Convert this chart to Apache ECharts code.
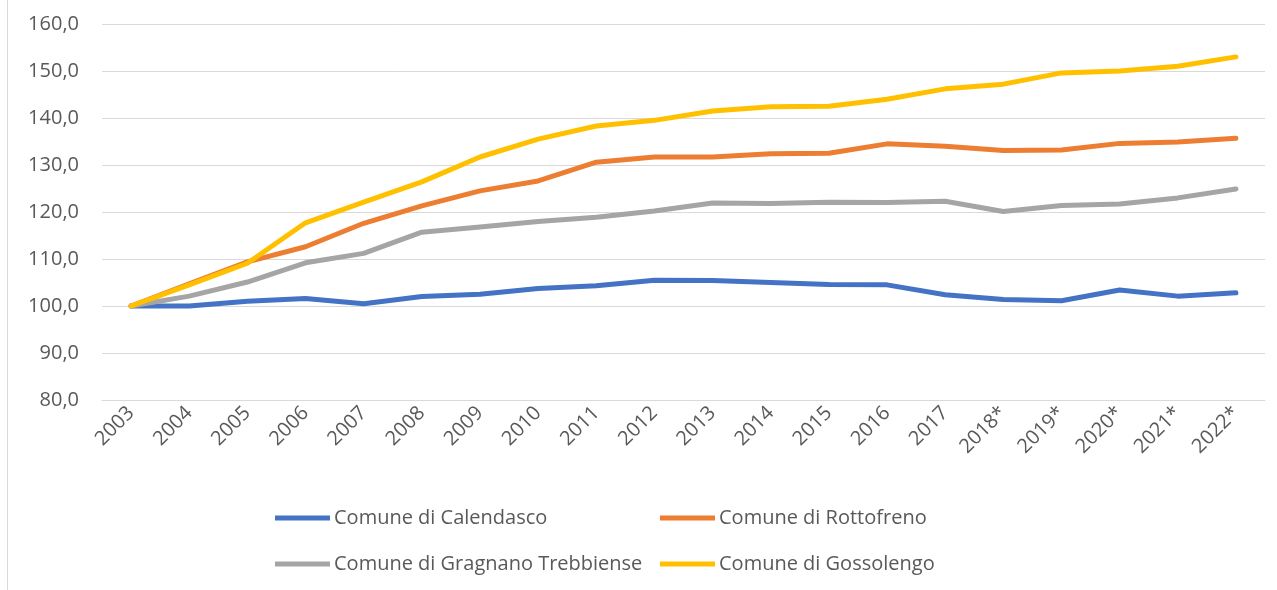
<!DOCTYPE html>
<html>
<head>
<meta charset="utf-8">
<script src="https://cdn.jsdelivr.net/npm/echarts@6/dist/echarts.min.js"></script>
<style>
  html, body { margin: 0; padding: 0; background: #fff; }
  #chart { width: 1277px; height: 590px; }
</style>
</head>
<body>
<div id="chart"></div>
<script>
// anni (gli asterischi = dati stimati)
const years = ['2003', '2004', '2005', '2006', '2007', '2008', '2009', '2010', '2011', '2012',
  '2013', '2014', '2015', '2016', '2017', '2018*', '2019*', '2020*', '2021*', '2022*']

// indice 2003 = 100
const calendasco = [100.0, 100.0, 101.0, 101.6, 100.5, 102.0, 102.5, 103.7, 104.3, 105.5,
  105.4, 105.0, 104.6, 104.5, 102.4, 101.4, 101.1, 103.4, 102.1, 102.8]
const rottofreno = [100.0, 104.7, 109.4, 112.6, 117.6, 121.3, 124.5, 126.6, 130.6, 131.7,
  131.7, 132.4, 132.5, 134.5, 134.0, 133.1, 133.2, 134.6, 134.9, 135.7]
const gragnano = [100.0, 102.1, 105.1, 109.2, 111.2, 115.7, 116.8, 118.0, 118.9, 120.2,
  121.9, 121.8, 122.1, 122.0, 122.3, 120.1, 121.4, 121.7, 123.0, 124.9]
const gossolengo = [100.0, 104.5, 109.1, 117.7, 122.1, 126.4, 131.7, 135.5, 138.3, 139.5,
  141.5, 142.4, 142.5, 144.0, 146.2, 147.2, 149.6, 150.0, 151.0, 153.0]

const seriesDefs = [
  { name: 'Comune di Calendasco', data: calendasco, color: '#4472C4' },
  { name: 'Comune di Rottofreno', data: rottofreno, color: '#ED7D31' },
  { name: 'Comune di Gragnano Trebbiense', data: gragnano, color: '#A5A5A5' },
  { name: 'Comune di Gossolengo', data: gossolengo, color: '#FFC000' }
]

const font = '"Open Sans", Roboto, sans-serif'
const textColor = '#595959'

const legendBase = {
  orient: 'vertical',
  top: 503,
  itemGap: 26,
  itemWidth: 55,
  itemHeight: 5,
  icon: 'rect',
  textStyle: { fontFamily: font, fontSize: 20, color: textColor, padding: [0, 0, 0, -1] },
  selectedMode: false
}

const chart = echarts.init(document.getElementById('chart'))

chart.setOption({
  animation: false,
  color: seriesDefs.map(s => s.color),
  graphic: [{
    type: 'line',
    shape: { x1: 7.5, y1: 0, x2: 7.5, y2: 590 },
    style: { stroke: '#d9d9d9', lineWidth: 1 }
  }],
  legend: [
    Object.assign({}, legendBase, { left: 270, data: [seriesDefs[0].name, seriesDefs[2].name] }),
    Object.assign({}, legendBase, { left: 655, data: [seriesDefs[1].name, seriesDefs[3].name] })
  ],
  grid: { left: 102, right: 12, top: 24, bottom: 190 },
  xAxis: {
    type: 'category',
    data: years,
    boundaryGap: true,
    axisLine: { lineStyle: { color: '#d9d9d9', width: 1 } },
    axisTick: { show: false },
    axisLabel: {
      rotate: 45,
      margin: 10,
      fontFamily: font,
      fontSize: 20,
      color: textColor
    }
  },
  yAxis: {
    type: 'value',
    min: 80,
    max: 160,
    interval: 10,
    axisLine: { show: false },
    axisTick: { show: false },
    splitLine: { lineStyle: { color: '#d9d9d9', width: 1 } },
    axisLabel: {
      margin: 23,
      fontFamily: font,
      fontSize: 20,
      color: textColor,
      formatter: v => v.toFixed(1).replace('.', ',')
    }
  },
  series: seriesDefs.map(s => ({
    name: s.name,
    type: 'line',
    data: s.data,
    symbol: 'none',
    lineStyle: { width: 5, color: s.color, cap: 'round', join: 'round' },
    itemStyle: { color: s.color }
  }))
})
</script>
</body>
</html>
